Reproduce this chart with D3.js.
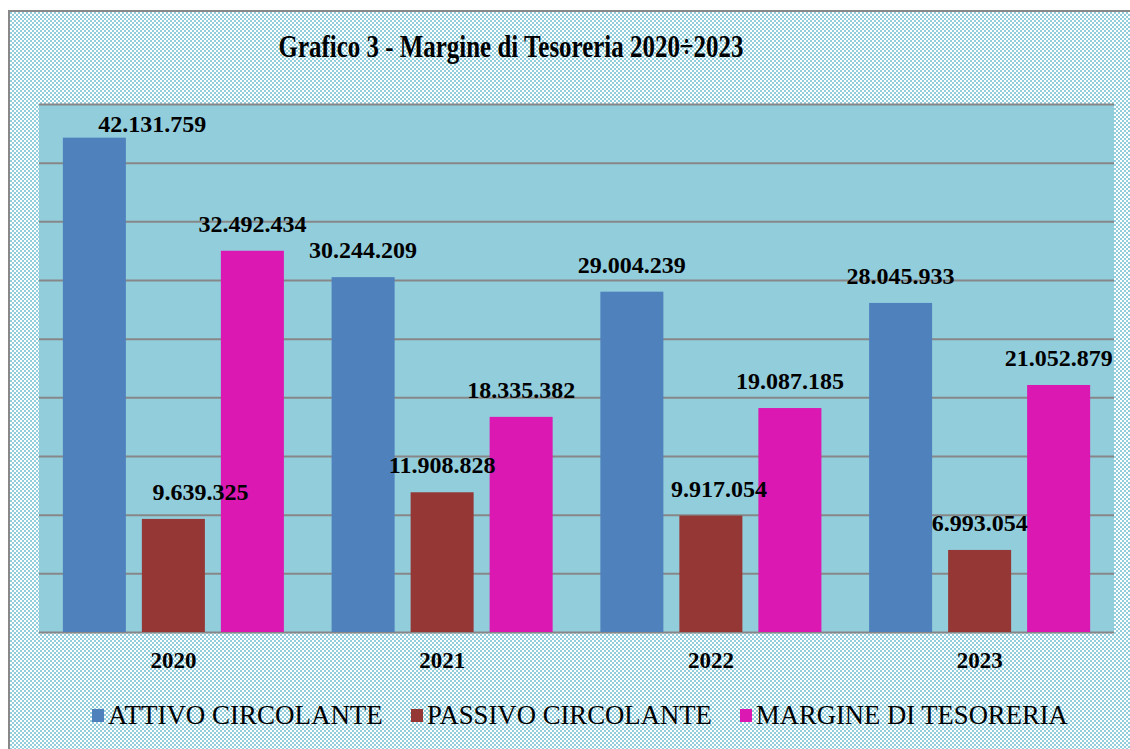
<!DOCTYPE html>
<html>
<head>
<meta charset="utf-8">
<script src="https://cdn.jsdelivr.net/npm/d3@7"></script>
<style>
  body { margin: 0; background: #fff; }
</style>
</head>
<body>
<script>
var years = ["2020", "2021", "2022", "2023"];
var seriesNames = ["ATTIVO CIRCOLANTE", "PASSIVO CIRCOLANTE", "MARGINE DI TESORERIA"];
var attivo = [42131759, 30244209, 29004239, 28045933];
var passivo = [9639325, 11908828, 9917054, 6993054];
var margine = [32492434, 18335382, 19087185, 21052879];
var yTicks = [0, 5e6, 10e6, 15e6, 20e6, 25e6, 30e6, 35e6, 40e6, 45e6];

var colors = ["#4f81bd", "#953735", "#db18b2"];
var W = 1130, H = 749;
var plot = { left: 39, right: 1114, top: 104, bottom: 632 };
var serif = "Liberation Serif";

var svg = d3.select("body").append("svg")
    .attr("width", W)
    .attr("height", H);

// squeeze a text horizontally to a given width
function fitWidth(sel, x, w, anchor) {
    var n = sel.node().getComputedTextLength();
    var k = w / n;
    var left = anchor === "middle" ? x - w / 2 : x;
    sel.attr("text-anchor", "start")
        .attr("x", 0)
        .attr("transform", "translate(" + left + "," + sel.attr("y") + ") scale(" + k + ",1)")
        .attr("y", 0);
}

// dotted background pattern
var pat = svg.append("defs").append("pattern")
    .attr("id", "dots")
    .attr("width", 4).attr("height", 4)
    .attr("patternUnits", "userSpaceOnUse");
pat.append("rect").attr("width", 4).attr("height", 4).attr("fill", "#92cddc");
pat.append("rect").attr("x", 0).attr("y", 0).attr("width", 2).attr("height", 2).attr("fill", "#ffffff");
pat.append("rect").attr("x", 2).attr("y", 2).attr("width", 2).attr("height", 2).attr("fill", "#ffffff");

svg.append("rect")
    .attr("x", 9).attr("y", 11)
    .attr("width", W + 10).attr("height", H + 10)
    .attr("fill", "url(#dots)")
    .attr("stroke", "#888888")
    .attr("stroke-width", 2);

svg.append("rect")
    .attr("x", plot.left).attr("y", plot.top)
    .attr("width", plot.right - plot.left).attr("height", plot.bottom - plot.top)
    .attr("fill", "#92cddc");

var yscale = d3.scaleLinear()
    .domain([0, 45000000])
    .range([plot.bottom, plot.top]);

var x0 = d3.scaleBand()
    .domain(years)
    .range([plot.left, plot.right]);

var x1 = d3.scaleBand()
    .domain(d3.range(seriesNames.length))
    .range([0, x0.bandwidth()])
    .paddingInner(0.2025)
    .paddingOuter(0.302);

// gridlines
var yAxis = d3.axisLeft(yscale)
    .tickValues(yTicks)
    .tickSize(-(plot.right - plot.left))
    .tickFormat("");
var grid = svg.append("g")
    .attr("transform", "translate(" + plot.left + ",0)")
    .call(yAxis);
grid.select(".domain").remove();
grid.selectAll(".tick line")
    .attr("stroke", "#878787")
    .attr("stroke-width", 2);

// bars
var table = years.map(function (y, i) {
    return { year: y, values: [attivo[i], passivo[i], margine[i]] };
});

var group = svg.selectAll("g.year")
    .data(table)
    .enter().append("g")
    .attr("class", "year")
    .attr("transform", function (d) { return "translate(" + x0(d.year) + ",0)"; });

group.selectAll("rect")
    .data(function (d) { return d.values.map(function (v, k) { return { k: k, v: v }; }); })
    .enter().append("rect")
    .attr("x", function (d) { return x1(d.k); })
    .attr("y", function (d) { return yscale(d.v); })
    .attr("width", x1.bandwidth())
    .attr("height", function (d) { return plot.bottom - yscale(d.v); })
    .attr("fill", function (d) { return colors[d.k]; });

// value labels (Excel nudged a couple of them sideways)
var fmt = d3.formatLocale({ decimal: ",", thousands: ".", grouping: [3], currency: ["", ""] }).format(",d");
var nudge = { "0-0": 58, "0-1": 27, "2-1": 8 };
var labels = svg.append("g");
table.forEach(function (d, i) {
    d.values.forEach(function (v, k) {
        var cx = x0(d.year) + x1(k) + x1.bandwidth() / 2 + (nudge[i + "-" + k] || 0);
        var t = labels.append("text")
            .attr("text-anchor", "middle")
            .attr("font-family", serif)
            .attr("font-weight", "bold")
            .attr("font-size", 24)
            .attr("fill", "#000")
            .attr("y", Math.max(yscale(v) - 19, plot.top + 28))
            .text(fmt(v));
        var w = t.node().getComputedTextLength();
        cx = Math.min(cx, plot.right - w / 2);
        t.attr("x", cx);
    });
});

// category labels
svg.selectAll("text.cat")
    .data(years)
    .enter().append("text")
    .attr("class", "cat")
    .attr("x", function (d) { return x0(d) + x0.bandwidth() / 2; })
    .attr("y", 668)
    .attr("text-anchor", "middle")
    .attr("font-family", serif)
    .attr("font-weight", "bold")
    .attr("font-size", 23)
    .text(function (d) { return d; });

// title
var title = svg.append("text")
    .attr("y", 57)
    .attr("font-family", serif)
    .attr("font-weight", "bold")
    .attr("font-size", 32)
    .text("Grafico 3 - Margine di Tesoreria 2020\u00f72023");
fitWidth(title, 511, 465, "middle");

// legend
var legendX = [92, 411, 740];
var legendW = [275, 285, 312];
seriesNames.forEach(function (name, i) {
    svg.append("rect")
        .attr("x", legendX[i]).attr("y", 709)
        .attr("width", 12).attr("height", 13)
        .attr("fill", colors[i]);
    var t = svg.append("text")
        .attr("y", 724)
        .attr("font-family", serif)
        .attr("font-size", 27)
        .text(name);
    fitWidth(t, legendX[i] + 16, legendW[i], "start");
});
</script>
</body>
</html>
